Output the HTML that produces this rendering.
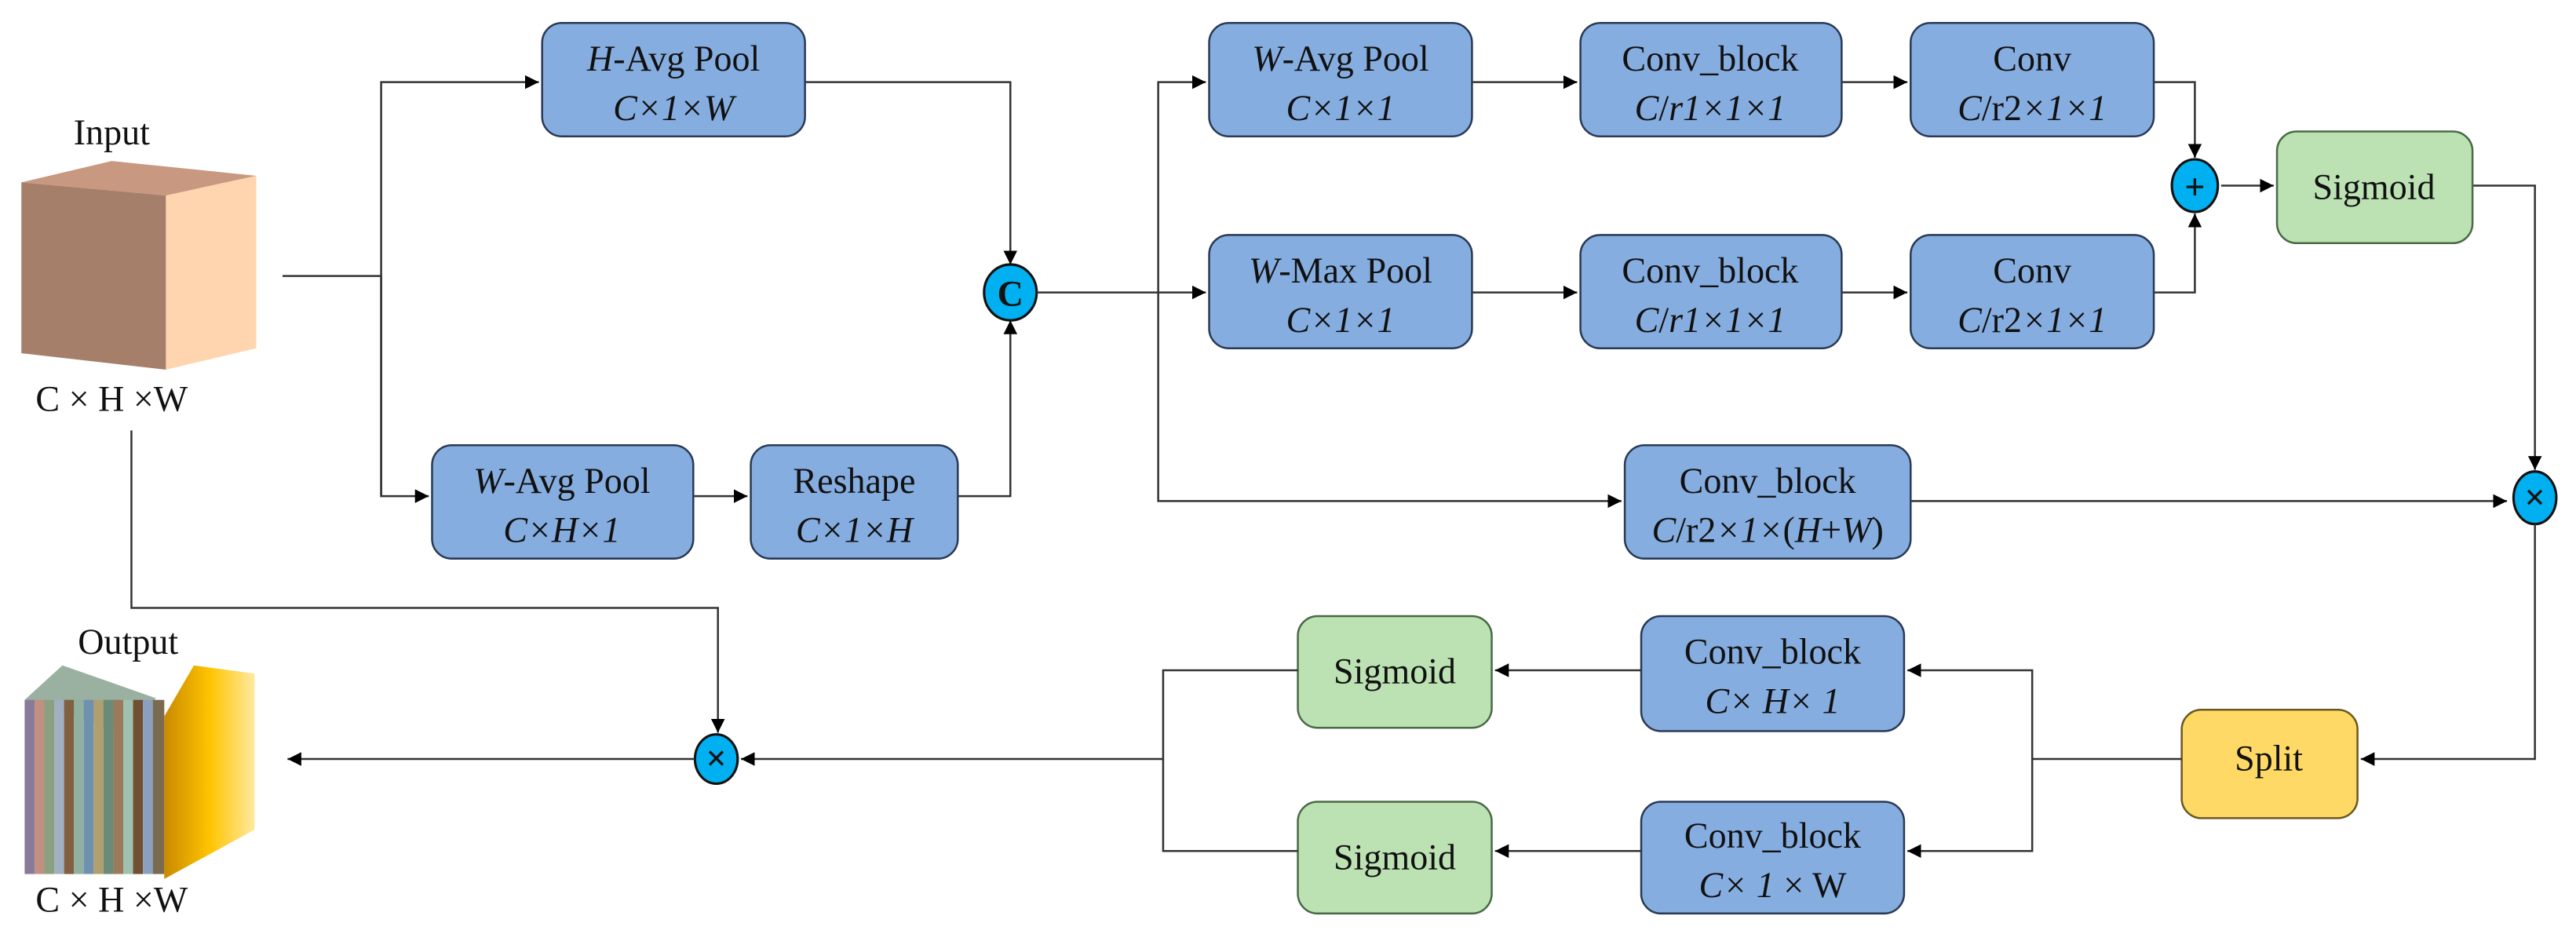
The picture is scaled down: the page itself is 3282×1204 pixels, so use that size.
<!DOCTYPE html>
<html><head><meta charset="utf-8"><style>
html,body{margin:0;padding:0;background:#fff}
svg{display:block}
text{font-family:"Liberation Serif",serif;font-size:22px;fill:#111}
.b{fill:#86ADE0;stroke:#2a3a55;stroke-width:1.2}
.g{fill:#BCE2B4;stroke:#4a6a45;stroke-width:1.2}
.y{fill:#FFD966;stroke:#6a5a20;stroke-width:1.2}
.l{stroke:#333;stroke-width:1.2;fill:none}
.c{fill:#00B0F0;stroke:#111;stroke-width:1.5}
</style></head><body>
<svg width="3282" height="1204" viewBox="0 0 1568 575.2" preserveAspectRatio="none" xmlns="http://www.w3.org/2000/svg">
<defs>
<marker id="a" viewBox="0 0 10 10" refX="10" refY="5" markerWidth="7" markerHeight="7" orient="auto-start-reverse"><path d="M0,0L10,5L0,10z" fill="#000"/></marker>
<linearGradient id="og" x1="0" x2="1"><stop offset="0" stop-color="#C98A00"/><stop offset="0.5" stop-color="#FFC400"/><stop offset="1" stop-color="#FFE9A0"/></linearGradient>
</defs>
<!-- input cube -->
<text x="68" y="88" text-anchor="middle">Input</text>
<polygon points="13,111 68,98 156,107 101,119" fill="#C99880"/>
<polygon points="13,111 101,119 101,225 13,215" fill="#A67F6A"/>
<polygon points="101,119 156,107 156,212 101,225" fill="#FFD5B0"/>
<text x="68" y="250" text-anchor="middle">C × H ×W</text>
<!-- output cube -->
<text x="78" y="398" text-anchor="middle">Output</text>
<polygon points="15,426 38,405 95,425 72,445" fill="#9ab0a0"/>
<g>
<rect x="15" y="426" width="6" height="106" fill="#8a7a9a"/>
<rect x="21" y="426" width="6" height="106" fill="#c09080"/>
<rect x="27" y="426" width="6" height="106" fill="#8aa080"/>
<rect x="33" y="426" width="6" height="106" fill="#a0b0c0"/>
<rect x="39" y="426" width="6" height="106" fill="#806040"/>
<rect x="45" y="426" width="6" height="106" fill="#90b0a0"/>
<rect x="51" y="426" width="6" height="106" fill="#7090b0"/>
<rect x="57" y="426" width="6" height="106" fill="#b0a070"/>
<rect x="63" y="426" width="6" height="106" fill="#6a8a7a"/>
<rect x="69" y="426" width="6" height="106" fill="#9a7a5a"/>
<rect x="75" y="426" width="6" height="106" fill="#a0c0b0"/>
<rect x="81" y="426" width="6" height="106" fill="#705030"/>
<rect x="87" y="426" width="6" height="106" fill="#8aa0c0"/>
<rect x="93" y="426" width="7" height="106" fill="#7a6a50"/>
</g>
<polygon points="100,436 118,405 155,410 155,505 100,535" fill="url(#og)"/>
<text x="68" y="555" text-anchor="middle">C × H ×W</text>
<!-- lines left -->
<line class="l" x1="172" y1="168" x2="232" y2="168"/>
<polyline class="l" points="232,302 232,50 328,50" marker-end="url(#a)"/>
<polyline class="l" points="232,168 232,302 261,302" marker-end="url(#a)"/>
<line class="l" x1="422" y1="302" x2="455" y2="302" marker-end="url(#a)"/>
<polyline class="l" points="490,50 615,50 615,161" marker-end="url(#a)"/>
<polyline class="l" points="583,302 615,302 615,195" marker-end="url(#a)"/>
<!-- boxes left -->
<rect class="b" x="330" y="14" width="160" height="69" rx="12"/>
<text x="410" y="43" text-anchor="middle"><tspan font-style="italic">H</tspan>-Avg Pool</text>
<text x="410" y="73" text-anchor="middle" font-style="italic">C×1×W</text>
<rect class="b" x="263" y="271" width="159" height="69" rx="12"/>
<text x="342" y="300" text-anchor="middle"><tspan font-style="italic">W</tspan>-Avg Pool</text>
<text x="342" y="330" text-anchor="middle" font-style="italic">C×H×1</text>
<rect class="b" x="457" y="271" width="126" height="69" rx="12"/>
<text x="520" y="300" text-anchor="middle">Reshape</text>
<text x="520" y="330" text-anchor="middle" font-style="italic">C×1×H</text>
<!-- C circle -->
<ellipse class="c" cx="615" cy="178" rx="16" ry="17"/>
<text x="615" y="186" text-anchor="middle" font-family="Liberation Sans" font-weight="bold" font-size="22">C</text>
<!-- middle lines -->
<line class="l" x1="631" y1="178" x2="734" y2="178" marker-end="url(#a)"/>
<polyline class="l" points="734,50 705,50 705,305 987,305" marker-start="url(#a)" marker-end="url(#a)"/>
<line class="l" x1="896" y1="50" x2="960" y2="50" marker-end="url(#a)"/>
<line class="l" x1="1121" y1="50" x2="1161" y2="50" marker-end="url(#a)"/>
<line class="l" x1="896" y1="178" x2="960" y2="178" marker-end="url(#a)"/>
<line class="l" x1="1121" y1="178" x2="1161" y2="178" marker-end="url(#a)"/>
<polyline class="l" points="1311,50 1336,50 1336,96" marker-end="url(#a)"/>
<polyline class="l" points="1311,178 1336,178 1336,130" marker-end="url(#a)"/>
<line class="l" x1="1352" y1="113" x2="1384" y2="113" marker-end="url(#a)"/>
<polyline class="l" points="1505,113 1543,113 1543,286" marker-end="url(#a)"/>
<line class="l" x1="1163" y1="305" x2="1526" y2="305" marker-end="url(#a)"/>
<!-- top right boxes -->
<rect class="b" x="736" y="14" width="160" height="69" rx="12"/>
<text x="816" y="43" text-anchor="middle"><tspan font-style="italic">W</tspan>-Avg Pool</text>
<text x="816" y="73" text-anchor="middle" font-style="italic">C×1×1</text>
<rect class="b" x="962" y="14" width="159" height="69" rx="12"/>
<text x="1041" y="43" text-anchor="middle">Conv_block</text>
<text x="1041" y="73" text-anchor="middle"><tspan font-style="italic">C</tspan>/<tspan font-style="italic">r1×1×1</tspan></text>
<rect class="b" x="1163" y="14" width="148" height="69" rx="12"/>
<text x="1237" y="43" text-anchor="middle">Conv</text>
<text x="1237" y="73" text-anchor="middle"><tspan font-style="italic">C</tspan>/r2<tspan font-style="italic">×1×1</tspan></text>
<rect class="b" x="736" y="143" width="160" height="69" rx="12"/>
<text x="816" y="172" text-anchor="middle"><tspan font-style="italic">W</tspan>-Max Pool</text>
<text x="816" y="202" text-anchor="middle" font-style="italic">C×1×1</text>
<rect class="b" x="962" y="143" width="159" height="69" rx="12"/>
<text x="1041" y="172" text-anchor="middle">Conv_block</text>
<text x="1041" y="202" text-anchor="middle"><tspan font-style="italic">C</tspan>/<tspan font-style="italic">r1×1×1</tspan></text>
<rect class="b" x="1163" y="143" width="148" height="69" rx="12"/>
<text x="1237" y="172" text-anchor="middle">Conv</text>
<text x="1237" y="202" text-anchor="middle"><tspan font-style="italic">C</tspan>/r2<tspan font-style="italic">×1×1</tspan></text>
<ellipse class="c" cx="1336" cy="113" rx="14" ry="16"/>
<text x="1336" y="121" text-anchor="middle" font-family="Liberation Sans" font-weight="bold" font-size="22">+</text>
<rect class="g" x="1386" y="80" width="119" height="68" rx="12"/>
<text x="1445" y="121" text-anchor="middle">Sigmoid</text>
<rect class="b" x="989" y="271" width="174" height="69" rx="12"/>
<text x="1076" y="300" text-anchor="middle">Conv_block</text>
<text x="1076" y="330" text-anchor="middle"><tspan font-style="italic">C</tspan>/r2<tspan font-style="italic">×1×</tspan>(<tspan font-style="italic">H</tspan>+<tspan font-style="italic">W</tspan>)</text>
<ellipse class="c" cx="1543" cy="303" rx="13" ry="16"/>
<text x="1543" y="310" text-anchor="middle" font-family="Liberation Sans" font-weight="bold" font-size="18">×</text>
<!-- bottom -->
<polyline class="l" points="1543,319 1543,462 1437,462" marker-end="url(#a)"/>
<rect class="y" x="1328" y="432" width="107" height="66" rx="12"/>
<text x="1381" y="469" text-anchor="middle">Split</text>
<line class="l" x1="1328" y1="462" x2="1237" y2="462"/>
<polyline class="l" points="1237,462 1237,408 1161,408" marker-end="url(#a)"/>
<polyline class="l" points="1237,462 1237,518 1161,518" marker-end="url(#a)"/>
<rect class="b" x="999" y="375" width="160" height="70" rx="12"/>
<text x="1079" y="404" text-anchor="middle">Conv_block</text>
<text x="1079" y="434" text-anchor="middle" font-style="italic">C× H× 1</text>
<rect class="b" x="999" y="488" width="160" height="68" rx="12"/>
<text x="1079" y="516" text-anchor="middle">Conv_block</text>
<text x="1079" y="546" text-anchor="middle"><tspan font-style="italic">C× 1</tspan> × W</text>
<line class="l" x1="999" y1="408" x2="910" y2="408" marker-end="url(#a)"/>
<line class="l" x1="999" y1="518" x2="910" y2="518" marker-end="url(#a)"/>
<rect class="g" x="790" y="375" width="118" height="68" rx="12"/>
<text x="849" y="416" text-anchor="middle">Sigmoid</text>
<rect class="g" x="790" y="488" width="118" height="68" rx="12"/>
<text x="849" y="529" text-anchor="middle">Sigmoid</text>
<polyline class="l" points="790,408 708,408 708,518 790,518"/>
<line class="l" x1="708" y1="462" x2="451" y2="462" marker-end="url(#a)"/>
<polyline class="l" points="80,262 80,370 437,370 437,446" marker-end="url(#a)"/>
<ellipse class="c" cx="436" cy="462" rx="13" ry="15"/>
<text x="436" y="469" text-anchor="middle" font-family="Liberation Sans" font-weight="bold" font-size="18">×</text>
<line class="l" x1="423" y1="462" x2="175" y2="462" marker-end="url(#a)"/>
</svg>
</body></html>
